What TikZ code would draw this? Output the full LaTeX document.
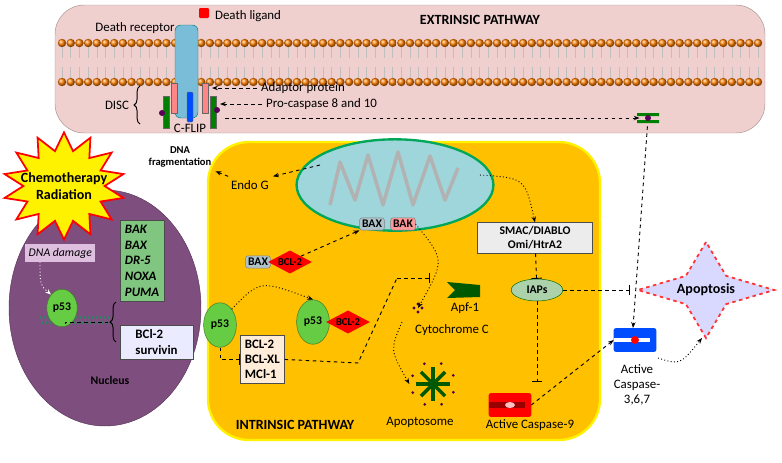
\documentclass[tikz,border=0pt]{standalone}
\usepackage{fontspec}
\setmainfont{Carlito}
\usetikzlibrary{arrows.meta,shapes.geometric,decorations.pathreplacing}
\definecolor{pinkbg}{HTML}{F0CFCF}
\definecolor{intrin}{HTML}{FFC000}
\definecolor{nucl}{HTML}{7E4E7E}
\definecolor{prot}{HTML}{66CC44}
\definecolor{mito}{HTML}{9ED6DC}
\begin{document}
\begin{tikzpicture}[x=0.03cm,y=-0.03cm,font=\fontsize{11}{12}\selectfont,>={Stealth[length=5pt]}]
  \tikzset{
    dsh/.style={dashed,thick},
    dot/.style={dotted,thick},
    inh/.style={dashed,thick,-{Bar[width=9pt]}},
    p53/.style={draw=prot!60!black,fill=prot,ellipse,minimum width=28,minimum height=38,inner sep=0pt,font=\bfseries\fontsize{10}{11}\selectfont},
    bcl/.style={diamond,aspect=1.9,fill=red,text=black,inner sep=1pt,font=\bfseries\fontsize{9}{10}\selectfont},
    bax/.style={draw=gray,fill=cyan!25!gray!60,rounded corners=2,inner sep=2pt,font=\bfseries\fontsize{10}{11}\selectfont},
    gbox/.style={draw=gray!60!black,inner sep=4pt,align=left,font=\bfseries\fontsize{11}{13}\selectfont}
  }
  \useasboundingbox (0,0) rectangle (782,462);
  % extrinsic part
  \fill[pinkbg,draw=pinkbg!70!black,rounded corners=25] (55,5) rectangle (765,133);
  \node[font=\bfseries\fontsize{12}{13}\selectfont] (ext) at (480,20) {EXTRINSIC PATHWAY};
  \foreach \x in {62,70.7,...,760} {
    \draw[gray!50] (\x,47) -- (\x,58) (\x,67) -- (\x,78);
    \shade[ball color=orange] (\x,43) circle (4.2);
    \shade[ball color=orange] (\x,82) circle (4.2);
  }
  \fill[red,rounded corners=1] (199,8) rectangle (209,18);
  \node[anchor=west] (lig) at (211,16) {Death ligand};
  \node (rec) at (135,28) {Death receptor};
  \fill[cyan!50!teal!60,draw=teal,rounded corners=5] (175,25) rectangle (198,118);
  \fill[pink!70!red,draw=black!60] (171,83) rectangle (177,113) (202,83) rectangle (208,113);
  \fill[green!50!black,draw=black!60] (163,96) rectangle (169,128) (210,96) rectangle (216,128);
  \fill[violet!70!black] (162,113) circle (3) (217,110) circle (3);
  \fill[blue!70!cyan,draw=black!60,rounded corners=1] (187,92) rectangle (193,122);
  \node (cflip) at (190,128) {C-FLIP};
  \node (disc) at (117,105) {DISC};
  \draw[decorate,decoration={brace,amplitude=5pt},thick] (140,124) -- (140,86);
  \node[anchor=west] (adap) at (257,88) {Adaptor protein};
  \node[anchor=west] (proc) at (262,104) {Pro-caspase 8 and 10};
  \coordinate (adapt) at (212,88);
  \coordinate (procd) at (220,104);
  \draw[dsh,->] (adap) -- (adapt);
  \draw[dsh,->] (proc) -- (procd);
  \coordinate (discr) at (225,118);
  \node[inner sep=0pt,minimum size=14] (pc8) at (648,118) {};
  \fill[green!50!black] (637,113) rectangle (659,116) (637,120) rectangle (659,123);
  \fill[violet!70!black] (648,118) circle (3);
  \draw[dsh,->] (discr) -- (pc8);
  % intrinsic part
  \fill[intrin,draw=yellow,line width=2,rounded corners=35] (208,142) rectangle (600,440);
  \node[font=\bfseries\fontsize{12}{13}\selectfont] (int) at (295,425) {INTRINSIC PATHWAY};
  % nucleus
  \fill[nucl,draw=nucl!70!black] (105,308) ellipse (96 and 118);
  \node[star,star points=14,star point ratio=1.5,fill=yellow,draw=red,line width=1.5,minimum size=104,inner sep=0pt,yscale=0.88] (chemo) at (64,186) {};
  \node[align=center,font=\bfseries\fontsize{12}{14}\selectfont] at (chemo) {Chemotherapy\\Radiation};
  \node[fill=violet!25,anchor=west,inner sep=3pt,font=\itshape\fontsize{10}{11}\selectfont] (dmg) at (25,253) {DNA damage};
  \node[gbox,fill=green!55!black!50,anchor=north west,font=\bfseries\itshape\fontsize{11}{13.5}\selectfont] (genes) at (120,220) {BAK\\BAX\\DR-5\\NOXA\\PUMA};
  \node[gbox,fill=blue!8,anchor=north west,minimum width=62] (surv) at (120,325) {BCl-2\\survivin};
  \foreach \x in {40,44,...,108} \draw[teal!70!green] (\x,316) -- (\x+3,324);
  \node[p53,minimum width=26,minimum height=32] (np53) at (62,308) {p53};
  \draw[dot,white,->] (dmg.south west) ++(15,0) coordinate (dmgs) .. controls (40,285) .. (np53.north west);
  \node[font=\bfseries] (nuc) at (110,380) {Nucleus};
  \coordinate (dnaend) at (65,324);
  \draw[dsh] (dnaend) |- (108,322);
  \draw[decorate,decoration={brace,amplitude=5pt},thick] (116,342) -- (116,302);
  % mitochondria
  \node[ellipse,fill=mito,draw=teal!70!green,line width=2,minimum width=168,minimum height=78] (mit) at (395,185) {};
  \draw[gray!60,line width=3,line join=round] (330,205) -- (340,162) -- (355,200) -- (368,155) -- (383,205) -- (398,152) -- (413,205) -- (430,156) -- (445,200) -- (458,168);
  \node[bax] (mbax) at (372,224) {BAX};
  \node[bax,fill=pink!80!red] (mbak) at (403,224) {BAK};
  \node (endo) at (250,185) {Endo G};
  \node[align=center,font=\bfseries\fontsize{9}{10}\selectfont] (frag) at (180,157) {DNA\\fragmentation};
  \draw[dsh,->] (320,165) -- (endo.north east);
  \draw[dsh,->] (endo) -- (frag.south east);
  \node[bax] (cbax) at (258,262) {BAX};
  \node[bcl] (cbcl) at (290,262) {BCL-2};
  \draw[dsh,->] (cbcl.north east) -- (mbax.south west);
  \node[p53] (p1) at (220,325) {p53};
  \node[p53] (p2) at (313,322) {p53};
  \node[bcl] (p2bcl) at (348,322) {BCL-2};
  \draw[dot,->] (p1.north east) .. controls (260,280) .. (p2.north);
  \node[gbox,fill=orange!15,anchor=north west] (bclbox) at (240,335) {BCL-2\\BCL-XL\\MCl-1};
  \draw[inh] (p1.south) |- (bclbox.west);
  \coordinate (bend) at (358,363);
  \coordinate (bup) at (397,278);
  \coordinate (bstop) at (430,278);
  \draw[dsh] (bclbox.east) -- (bend) -- (bup);
  \draw[inh] (bup) -- (bstop);
  % cytochrome, apoptosome
  \fill[green!35!black] (447,282) -- (480,285) -- (480,297) -- (447,298) -- (455,290) -- cycle;
  \node (apf) at (465,308) {Apf-1};
  \node (cyt) at (452,330) {Cytochrome C};
  \coordinate (cytc) at (418,308);
  \foreach \a in {0,90,180,270} \fill[violet!60!black] (cytc) ++(\a:4) circle (1.6);
  \draw[dot,->] (mbak.east) .. controls (445,260) .. (cytc);
  \node[inner sep=0pt,minimum size=40] (apo) at (433,384) {};
  \foreach \a in {0,45,...,315} {
    \draw[green!35!black,line width=3] (apo.center) -- ++(\a:17);
    \fill[violet!60!black] (apo.center) ++(\a+22:22) circle (1.5);
  }
  \node (apol) at (420,422) {Apoptosome};
  \draw[dot,->] (402,322) .. controls (390,350) .. (apo.west);
  % smac, iaps, caspases
  \node[draw=gray!60!black,fill=gray!15,align=center,font=\bfseries\fontsize{10}{12}\selectfont,minimum width=98] (smac) at (535,238) {SMAC/DIABLO\\Omi/HtrA2};
  \draw[dot,->] (480,175) .. controls (525,178) .. (smac.north);
  \node[ellipse,draw=green!40!black,fill=green!30!gray!50,font=\bfseries\fontsize{10}{11}\selectfont,minimum width=44] (iap) at (537,290) {IAPs};
  \draw[inh] (smac) -- (iap);
  \node[inner sep=0pt,minimum width=36,minimum height=20] (c9) at (510,405) {};
  \fill[red,rounded corners=2] (c9.north west) rectangle (c9.south east);
  \fill[red!60!black] (c9.west) ++(0,-3) rectangle ++(36,6);
  \fill[pink] (c9) ellipse (5 and 3);
  \node (c9l) at (530,425) {Active Caspase-9};
  \draw[inh] (iap) -- (537,382);
  \node[inner sep=0pt,minimum width=36,minimum height=20] (c3) at (635,340) {};
  \fill[blue!70!cyan,rounded corners=2] (c3.north west) rectangle (c3.south east);
  \fill[white] (c3.west) ++(0,-2) rectangle ++(36,4);
  \fill[red] (c3) circle (4);
  \node[align=center,font=\fontsize{11}{13}\selectfont] (c3l) at (637,385) {Active\\Caspase-\\3,6,7};
  \draw[dsh,->] (c9.east) -- (c3.west);
  \draw[dsh,->] (pc8) -- (633,328);
  \draw[inh] (iap) -- (630,290);
  \node[star,star points=4,star point ratio=2.4,draw=red!80,dashed,line width=1.5,fill=blue!15,minimum size=82,inner sep=0pt,xscale=1.42] (apop) at (706,290) {};
  \node[font=\bfseries\fontsize{12}{13}\selectfont] at (apop) {Apoptosis};
  \draw[dot,->] (658,358) .. controls (680,365) .. (702,338);
\end{tikzpicture}
\end{document}
